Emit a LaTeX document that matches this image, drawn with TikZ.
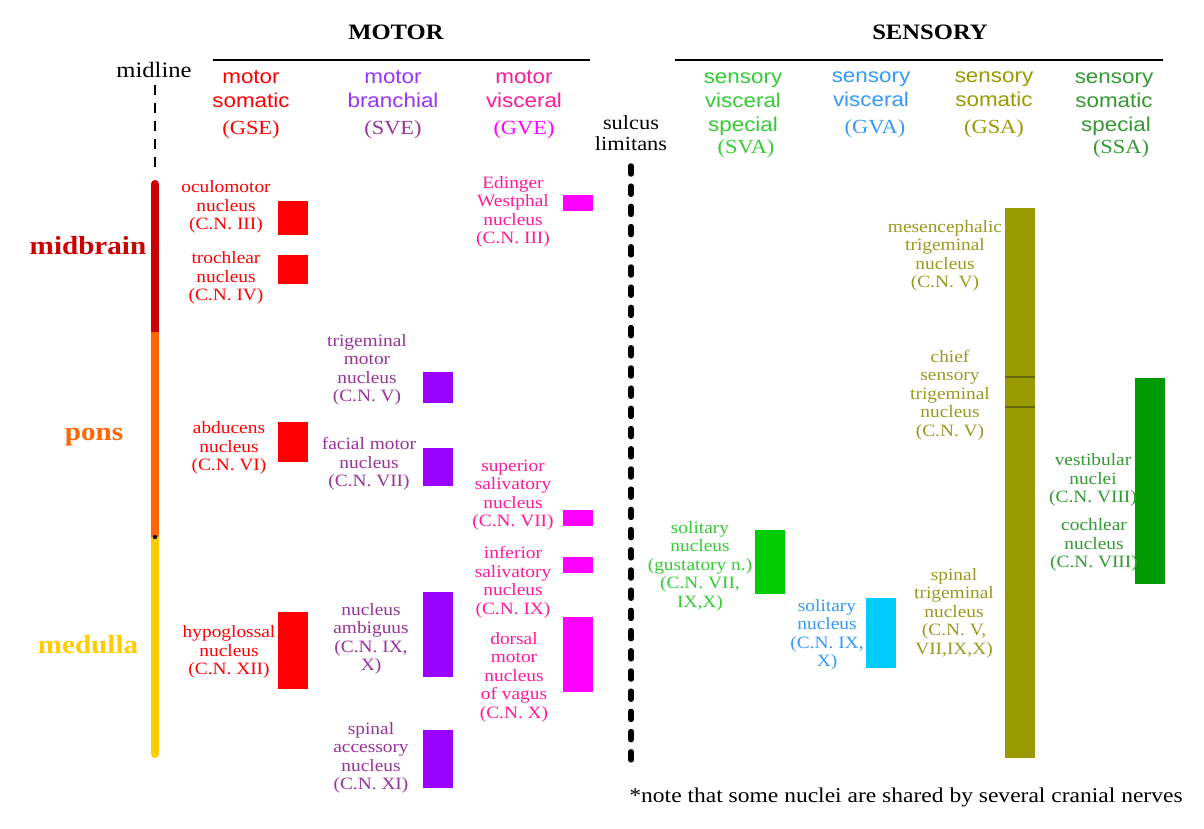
\documentclass[tikz,border=0pt]{standalone}
\usepackage{fontspec}
\setmainfont{Liberation Serif}[FakeStretch=1.12]
\newfontfamily\hs{Liberation Sans}[FakeStretch=1.12]
\definecolor{cRed}{HTML}{FF0000}
\definecolor{cDR}{HTML}{CC0000}
\definecolor{cOr}{HTML}{FF6600}
\definecolor{cYe}{HTML}{FFCC00}
\definecolor{cPu}{HTML}{9900FF}
\definecolor{cPuH}{HTML}{9933FF}
\definecolor{cPuT}{HTML}{993399}
\definecolor{cMa}{HTML}{FF00FF}
\definecolor{cPk}{HTML}{FF1A99}
\definecolor{cGr}{HTML}{00CC00}
\definecolor{cGrT}{HTML}{33CC33}
\definecolor{cBl}{HTML}{00CCFF}
\definecolor{cBlT}{HTML}{3399FF}
\definecolor{cOl}{HTML}{999900}
\definecolor{cOlT}{HTML}{999922}
\definecolor{cOlD}{HTML}{666600}
\definecolor{cDG}{HTML}{009900}
\definecolor{cDGT}{HTML}{339933}
\tikzset{
  lab/.style={align=center, font=\fontsize{17.3}{18.5}\selectfont, inner sep=0pt},
  hdr/.style={align=center, font=\fontsize{20}{23.5}\selectfont, inner sep=0pt},
  reg/.style={font=\bfseries\fontsize{26}{28}\selectfont, inner sep=0pt},
  ttl/.style={font=\bfseries\fontsize{22}{24}\selectfont, inner sep=0pt},
  rule/.style={line width=2pt, black},
}
\begin{document}
\begin{tikzpicture}[x=1pt,y=-1pt]
\useasboundingbox[fill=white] (0,0) rectangle (1204,829);

% titles
\node[ttl] (motor) at (396,32) {MOTOR};
\node[ttl] (sensory) at (930,32) {SENSORY};
\coordinate (ml1) at (213,60); \coordinate (ml2) at (590,60);
\coordinate (sl1) at (675,60); \coordinate (sl2) at (1163,60);
\draw[rule] (ml1) -- (ml2);
\draw[rule] (sl1) -- (sl2);

% midline
\node[hdr, font=\fontsize{22}{24}\selectfont] (midline) at (154,70) {midline};
\coordinate (md1) at (155,85); \coordinate (md2) at (155,170);
\draw[line width=2pt, dash pattern=on 10pt off 8pt] (md1) -- (md2);

% column headers
\node[hdr, text=cRed] (gse) at (251,105) {\hs motor\\\hs somatic\\[4pt](GSE)};
\node[hdr, text=cPuH] (sve) at (393,105) {\hs motor\\\hs branchial\\[4pt]\textcolor{cPuT}{(SVE)}};
\node[hdr, text=cPk] (gve) at (524,105) {\hs motor\\\hs visceral\\[4pt]\textcolor{cMa}{(GVE)}};
\node[hdr] (sulcus) at (631,133) {sulcus\\[-2pt]limitans};
\node[hdr, text=cGrT] (sva) at (743,115) {\hs sensory\\\hs visceral\\[1pt]\hs special\\[-2pt]\hspace*{6pt}(SVA)};
\node[hdr, text=cBlT] (gva) at (871,105) {\hs sensory\\\hs visceral\\[4pt]\hspace*{8pt}(GVA)};
\node[hdr, text=cOl] (gsa) at (994,105) {\hs sensory\\\hs somatic\\[4pt](GSA)};
\node[hdr, text=cDGT] (ssa) at (1114,115) {\hs sensory\\\hs somatic\\[1pt]\hs \hspace*{4pt}special\\[-2pt]\hspace*{14pt}(SSA)};

% sulcus limitans line
\coordinate (su1) at (631,166); \coordinate (su2) at (631,762);
\draw[line width=5.5pt, line cap=round, dash pattern=on 8pt off 12.2pt] (su1) -- (su2);

% brainstem bar
\coordinate (b0) at (155,184); \coordinate (b1) at (155,332);
\coordinate (b2) at (155,537); \coordinate (b3) at (155,754);
\draw[line width=8pt, cDR, line cap=round] (b0) -- (b1);
\draw[line width=8pt, cYe, line cap=round] (b2) -- (b3);
\draw[line width=8pt, cOr] (b1) -- (b2);
\fill[black] (b2) circle (2.2pt);
\node[reg, text=cDR] (midbrain) at (88,246) {midbrain};
\node[reg, text=cOr] (pons) at (94,437) {pons};
\node[reg, text=cYe] (medulla) at (88,645) {medulla};

% motor somatic (GSE)
\fill[cRed] (278,201) rectangle (308,235);
\fill[cRed] (278,255) rectangle (308,284);
\fill[cRed] (278,422) rectangle (308,462);
\fill[cRed] (278,612) rectangle (308,689);
\node[lab, text=cRed] (ocu) at (226,207) {oculomotor\\nucleus\\(C.N. III)};
\node[lab, text=cRed] (tro) at (226,278) {trochlear\\nucleus\\(C.N. IV)};
\node[lab, text=cRed] (abd) at (229,448) {abducens\\nucleus\\(C.N. VI)};
\node[lab, text=cRed] (hyp) at (229,652) {hypoglossal\\nucleus\\(C.N. XII)};

% motor branchial (SVE)
\fill[cPu] (423,372) rectangle (453,403);
\fill[cPu] (423,448) rectangle (453,486);
\fill[cPu] (423,592) rectangle (453,677);
\fill[cPu] (423,730) rectangle (453,788);
\node[lab, text=cPuT] (tmn) at (367,370) {trigeminal\\motor\\nucleus\\(C.N. V)};
\node[lab, text=cPuT] (fmn) at (369,464) {facial motor\\nucleus\\(C.N. VII)};
\node[lab, text=cPuT] (amb) at (371,639) {nucleus\\ambiguus\\(C.N. IX,\\X)};
\node[lab, text=cPuT] (acc) at (371,758) {spinal\\accessory\\nucleus\\(C.N. XI)};

% motor visceral (GVE)
\fill[cMa] (563,195) rectangle (593,211);
\fill[cMa] (563,510) rectangle (593,526);
\fill[cMa] (563,557) rectangle (593,573);
\fill[cMa] (563,617) rectangle (593,692);
\node[lab, text=cPk] (ew) at (513,212) {Edinger\\Westphal\\nucleus\\(C.N. III)};
\node[lab, text=cPk] (ssn) at (513,495) {superior\\salivatory\\nucleus\\(C.N. VII)};
\node[lab, text=cPk] (isn) at (513,582) {inferior\\salivatory\\nucleus\\(C.N. IX)};
\node[lab, text=cPk] (dmv) at (514,677) {dorsal\\motor\\nucleus\\of vagus\\(C.N. X)};

% sensory visceral special (SVA)
\fill[cGr] (755,530) rectangle (785,594);
\node[lab, text=cGrT] (gus) at (700,566) {solitary\\nucleus\\(gustatory n.)\\(C.N. VII,\\IX,X)};

% sensory visceral (GVA)
\fill[cBl] (866,598) rectangle (896,668);
\node[lab, text=cBlT] (sol) at (827,635) {solitary\\nucleus\\(C.N. IX,\\X)};

% sensory somatic (GSA)
\fill[cOl] (1005,208) rectangle (1035,758);
\draw[cOlD, line width=1.2pt] (1005,377) -- (1035,377);
\draw[cOlD, line width=1.2pt] (1005,407) -- (1035,407);
\node[lab, text=cOlT] (mes) at (945,256) {mesencephalic\\trigeminal\\nucleus\\(C.N. V)};
\node[lab, text=cOlT] (chf) at (950,395) {chief\\sensory\\trigeminal\\nucleus\\(C.N. V)};
\node[lab, text=cOlT] (spt) at (954,613) {spinal\\trigeminal\\nucleus\\(C.N. V,\\VII,IX,X)};

% sensory somatic special (SSA)
\fill[cDG] (1135,378) rectangle (1165,584);
\node[lab, text=cDGT] (ves) at (1093,480) {vestibular\\nuclei\\(C.N. VIII)};
\node[lab, text=cDGT] (coc) at (1094,545) {cochlear\\nucleus\\(C.N. VIII)};

% note
\node[inner sep=0pt, font=\fontsize{21}{23}\selectfont] (note) at (906,797) {*note that some nuclei are shared by several cranial nerves};
\end{tikzpicture}
\end{document}
